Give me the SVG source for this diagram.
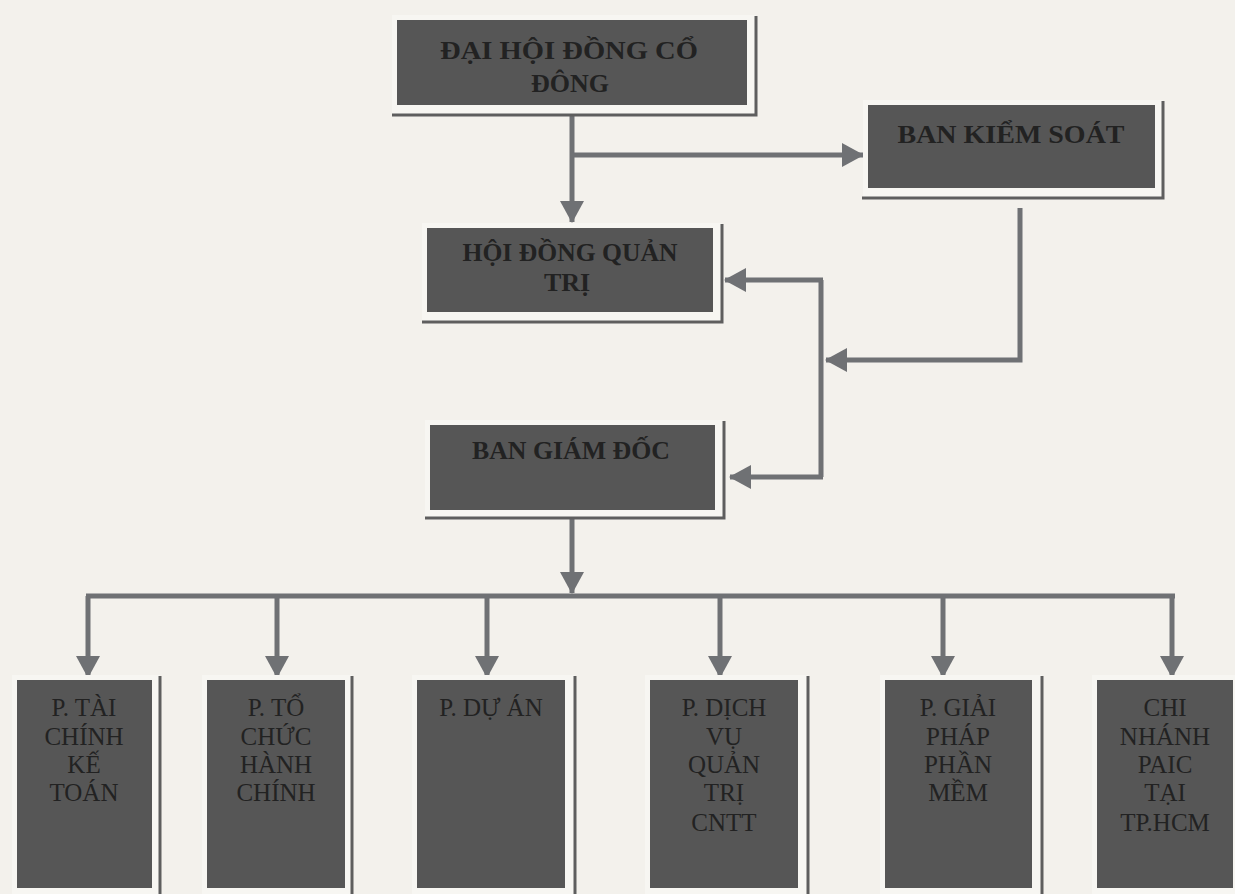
<svg xmlns="http://www.w3.org/2000/svg" width="1235" height="894" viewBox="0 0 1235 894">
<defs>
<marker id="ah" markerUnits="userSpaceOnUse" markerWidth="24" markerHeight="24" viewBox="0 0 22 24" refX="21" refY="12" orient="auto">
<path d="M0,0 L22,12 L0,24 Z" fill="#6f7174"/>
</marker>
</defs>
<style>
.bg{fill:#f3f1ec}
.box{fill:#565656}
.frame{fill:#f7f6f2}
.sh{fill:none;stroke:#5e5e5e;stroke-width:3}
.t{font-family:"Liberation Serif","Times New Roman",serif;fill:#222222;text-anchor:middle}
.tb{font-size:26px;font-weight:bold}
.ts{font-size:25px}
.c{fill:none;stroke:#6f7174;stroke-width:5}
.ca{fill:none;stroke:#6f7174;stroke-width:5;marker-end:url(#ah)}
</style>
<rect class="bg" x="0" y="0" width="1235" height="894"/>

<g id="connectors">
<path class="ca" d="M572,105 V222"/>
<path class="ca" d="M572,155 H863"/>
<path class="ca" d="M1020,208 V360 H826"/>
<path class="c" d="M821,280 V477"/>
<path class="ca" d="M823,280 H725"/>
<path class="ca" d="M823,477 H730"/>
<path class="ca" d="M572,512 V593"/>
<path class="c" d="M86,596 H1175"/>
<path class="ca" d="M88,596 V677"/>
<path class="ca" d="M277,596 V677"/>
<path class="ca" d="M487,596 V677"/>
<path class="ca" d="M720,596 V677"/>
<path class="ca" d="M943,596 V677"/>
<path class="ca" d="M1172,596 V677"/>
</g>

<g id="n-dhdcd">
<rect class="frame" x="392" y="15" width="364" height="100"/>
<rect class="box" x="397" y="20" width="350" height="85"/>
<path class="sh" d="M392,115 H756 V16"/>
<text class="t tb" x="569" y="59" textLength="258" lengthAdjust="spacingAndGlyphs">ĐẠI HỘI ĐỒNG CỔ</text>
<text class="t tb" x="570" y="92">ĐÔNG</text>
</g>

<g id="n-bks">
<rect class="frame" x="863" y="100" width="300" height="98"/>
<rect class="box" x="868" y="105" width="287" height="83"/>
<path class="sh" d="M862,198 H1163 V101"/>
<text class="t tb" x="1011" y="143" textLength="227" lengthAdjust="spacingAndGlyphs">BAN KIỂM SOÁT</text>
</g>

<g id="n-hdqt">
<rect class="frame" x="422" y="223" width="300" height="99"/>
<rect class="box" x="427" y="228" width="286" height="84"/>
<path class="sh" d="M422,322 H722 V224"/>
<text class="t tb" x="570" y="261" textLength="215" lengthAdjust="spacingAndGlyphs">HỘI ĐỒNG QUẢN</text>
<text class="t tb" x="567" y="291">TRỊ</text>
</g>

<g id="n-bgd">
<rect class="frame" x="425" y="420" width="299" height="98"/>
<rect class="box" x="430" y="425" width="285" height="85"/>
<path class="sh" d="M425,518 H724 V421"/>
<text class="t tb" x="571" y="459" textLength="198" lengthAdjust="spacingAndGlyphs">BAN GIÁM ĐỐC</text>
</g>

<g id="n-tckt">
<rect class="frame" x="12" y="675" width="148" height="219"/>
<rect class="box" x="17" y="680" width="135" height="208"/>
<path class="sh" d="M160,676 V894"/>
<text class="t ts" x="84" y="716">P. TÀI</text>
<text class="t ts" x="84" y="745">CHÍNH</text>
<text class="t ts" x="84" y="773">KẾ</text>
<text class="t ts" x="84" y="801">TOÁN</text>
</g>

<g id="n-tchc">
<rect class="frame" x="202" y="675" width="150" height="219"/>
<rect class="box" x="207" y="680" width="138" height="208"/>
<path class="sh" d="M352,676 V894"/>
<text class="t ts" x="276" y="716">P. TỔ</text>
<text class="t ts" x="276" y="745">CHỨC</text>
<text class="t ts" x="276" y="773">HÀNH</text>
<text class="t ts" x="276" y="801">CHÍNH</text>
</g>

<g id="n-da">
<rect class="frame" x="412" y="675" width="163" height="219"/>
<rect class="box" x="417" y="680" width="148" height="208"/>
<path class="sh" d="M575,676 V894"/>
<text class="t ts" x="491" y="716">P. DỰ ÁN</text>
</g>

<g id="n-dvqt">
<rect class="frame" x="645" y="675" width="163" height="219"/>
<rect class="box" x="650" y="680" width="148" height="208"/>
<path class="sh" d="M808,676 V894"/>
<text class="t ts" x="724" y="716">P. DỊCH</text>
<text class="t ts" x="724" y="745">VỤ</text>
<text class="t ts" x="724" y="773">QUẢN</text>
<text class="t ts" x="724" y="801">TRỊ</text>
<text class="t ts" x="724" y="831">CNTT</text>
</g>

<g id="n-gppm">
<rect class="frame" x="880" y="675" width="162" height="219"/>
<rect class="box" x="885" y="680" width="147" height="208"/>
<path class="sh" d="M1042,676 V894"/>
<text class="t ts" x="958" y="716">P. GIẢI</text>
<text class="t ts" x="958" y="745">PHÁP</text>
<text class="t ts" x="958" y="773">PHẦN</text>
<text class="t ts" x="958" y="801">MỀM</text>
</g>

<g id="n-cn">
<rect class="frame" x="1092" y="675" width="143" height="219"/>
<rect class="box" x="1097" y="680" width="136" height="208"/>
<text class="t ts" x="1165" y="716">CHI</text>
<text class="t ts" x="1165" y="745">NHÁNH</text>
<text class="t ts" x="1165" y="773">PAIC</text>
<text class="t ts" x="1165" y="801">TẠI</text>
<text class="t ts" x="1165" y="831">TP.HCM</text>
</g>
</svg>
